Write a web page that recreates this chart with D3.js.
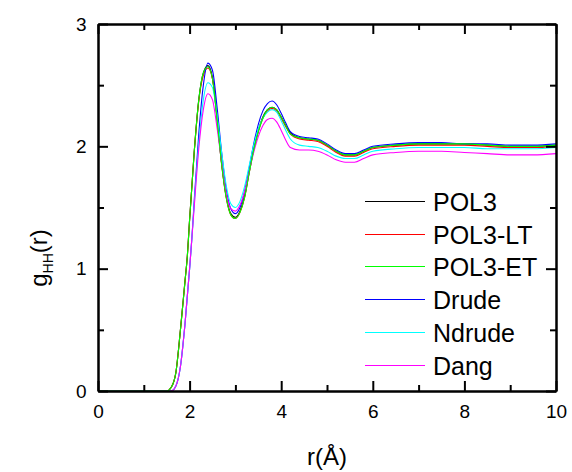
<!DOCTYPE html>
<html>
<head>
<meta charset="utf-8">
<script src="https://cdnjs.cloudflare.com/ajax/libs/d3/7.8.5/d3.min.js"></script>
<style>
  body { margin: 0; background: #fff; }
  text { font-family: 'Liberation Sans', Arial, Helvetica, sans-serif; fill: #000; }
</style>
</head>
<body>
<div id="chart"></div>
<script>
// r grid (Å) shared by all series
const rEarly = [0, 1.4, 1.5, 1.6, 1.7, 1.8, 1.9, 1.95, 2.0, 2.1, 2.2, 2.3, 2.4, 2.5, 2.6, 2.7, 2.8, 2.9, 3.0, 3.1, 3.2, 3.3, 3.4, 3.5, 3.6, 3.7, 3.8, 3.9, 4.0, 4.1, 4.2, 4.4, 4.6, 4.8, 5.0, 5.2, 5.4, 5.6, 5.8, 6.0, 6.5, 7.0, 7.5, 8.0, 8.5, 9.0, 9.5, 10.0];
const rLate = [0, 1.5, 1.6, 1.7, 1.8, 1.9, 2.0, 2.05, 2.1, 2.2, 2.3, 2.4, 2.5, 2.6, 2.7, 2.8, 2.9, 3.0, 3.1, 3.2, 3.3, 3.4, 3.5, 3.6, 3.7, 3.8, 3.9, 4.0, 4.1, 4.2, 4.4, 4.6, 4.8, 5.0, 5.2, 5.4, 5.6, 5.8, 6.0, 6.5, 7.0, 7.5, 8.0, 8.5, 9.0, 9.5, 10.0];

const gPOL3   = [0, 0, 0, 0.03, 0.15, 0.5, 0.9, 1.1, 1.4, 1.95, 2.38, 2.6, 2.66, 2.56, 2.23, 1.86, 1.59, 1.45, 1.42, 1.47, 1.59, 1.79, 1.98, 2.13, 2.24, 2.30, 2.32, 2.30, 2.24, 2.17, 2.11, 2.07, 2.06, 2.05, 2.01, 1.96, 1.93, 1.93, 1.96, 1.99, 2.01, 2.02, 2.02, 2.02, 2.01, 2.0, 2.0, 2.01];
const gPOL3LT = [0, 0, 0, 0.03, 0.15, 0.5, 0.9, 1.1, 1.4, 1.95, 2.37, 2.58, 2.64, 2.55, 2.22, 1.85, 1.58, 1.44, 1.41, 1.46, 1.58, 1.78, 1.97, 2.12, 2.23, 2.29, 2.31, 2.29, 2.23, 2.16, 2.10, 2.06, 2.05, 2.04, 2.0, 1.95, 1.92, 1.92, 1.95, 1.98, 2.0, 2.01, 2.01, 2.01, 2.0, 1.99, 1.99, 2.0];
const gPOL3ET = [0, 0, 0, 0.03, 0.15, 0.5, 0.9, 1.1, 1.4, 1.95, 2.38, 2.6, 2.65, 2.55, 2.22, 1.85, 1.58, 1.44, 1.41, 1.46, 1.58, 1.78, 1.97, 2.12, 2.23, 2.30, 2.32, 2.30, 2.24, 2.17, 2.10, 2.07, 2.06, 2.05, 2.01, 1.96, 1.93, 1.93, 1.96, 1.99, 2.01, 2.02, 2.02, 2.02, 2.01, 2.0, 2.0, 2.01];
const gDrude  = [0, 0, 0, 0.04, 0.2, 0.55, 1.0, 1.25, 1.55, 2.1, 2.5, 2.68, 2.62, 2.32, 1.95, 1.65, 1.49, 1.45, 1.50, 1.63, 1.82, 2.02, 2.18, 2.29, 2.35, 2.37, 2.34, 2.27, 2.19, 2.12, 2.08, 2.07, 2.06, 2.02, 1.97, 1.94, 1.94, 1.97, 2.0, 2.02, 2.03, 2.03, 2.02, 2.02, 2.01, 2.01, 2.02];
const gNdrude = [0, 0, 0, 0.04, 0.2, 0.55, 1.0, 1.25, 1.52, 2.02, 2.38, 2.52, 2.48, 2.25, 1.95, 1.68, 1.53, 1.50, 1.55, 1.67, 1.84, 2.01, 2.14, 2.23, 2.28, 2.30, 2.28, 2.21, 2.13, 2.06, 2.01, 2.00, 1.99, 1.96, 1.92, 1.90, 1.90, 1.93, 1.96, 1.98, 1.99, 1.99, 1.99, 1.98, 1.98, 1.98, 1.99];
const gDang   = [0, 0, 0, 0.04, 0.2, 0.55, 1.0, 1.25, 1.5, 1.98, 2.3, 2.43, 2.38, 2.15, 1.87, 1.62, 1.49, 1.47, 1.52, 1.63, 1.79, 1.95, 2.08, 2.17, 2.22, 2.23, 2.20, 2.13, 2.05, 1.99, 1.97, 1.97, 1.96, 1.93, 1.89, 1.87, 1.87, 1.90, 1.93, 1.95, 1.96, 1.96, 1.95, 1.94, 1.93, 1.93, 1.94];

const seriesNames  = ['POL3', 'POL3-LT', 'POL3-ET', 'Drude', 'Ndrude', 'Dang'];
const seriesColors = ['#000000', '#ff0000', '#00ff00', '#0000ff', '#00ffff', '#ff00ff'];
const seriesR      = [rEarly, rEarly, rEarly, rLate, rLate, rLate];
const seriesG      = [gPOL3, gPOL3LT, gPOL3ET, gDrude, gNdrude, gDang];

const xMajor = [0, 2, 4, 6, 8, 10];
const xMinor = [1, 3, 5, 7, 9];
const yMajor = [0, 1, 2, 3];
const yMinor = [0.5, 1.5, 2.5];

const W = 572, H = 472;
const margin = { top: 24, right: 16, bottom: 81, left: 98 };
const iw = W - margin.left - margin.right;
const ih = H - margin.top - margin.bottom;

const svg = d3.select('#chart').append('svg').attr('width', W).attr('height', H);
const g = svg.append('g').attr('transform', `translate(${margin.left},${margin.top})`);

const x = d3.scaleLinear().domain([0, 10]).range([0, iw]);
const y = d3.scaleLinear().domain([0, 3]).range([ih, 0]);

// curves — green drawn last so it sits on top of black/red
const order = [0, 1, 3, 4, 5, 2];
const line = d3.line().curve(d3.curveMonotoneX);
order.forEach(i => {
    const pts = seriesR[i].map((r, k) => [x(r), y(seriesG[i][k])]);
    g.append('path')
        .attr('d', line(pts))
        .attr('fill', 'none')
        .attr('stroke', seriesColors[i])
        .attr('stroke-width', 1.1);
});

// frame + inward ticks on all four sides
const major = 10, minor = 6;
const axisB = d3.axisBottom(x).tickValues(xMajor).tickSizeInner(-major).tickSizeOuter(0).tickFormat(d3.format('d'));
const axisT = d3.axisTop(x).tickValues(xMajor).tickSizeInner(-major).tickSizeOuter(0).tickFormat('');
const axisL = d3.axisLeft(y).tickValues(yMajor).tickSizeInner(-major).tickSizeOuter(0).tickFormat(d3.format('d'));
const axisR = d3.axisRight(y).tickValues(yMajor).tickSizeInner(-major).tickSizeOuter(0).tickFormat('');
const minB = d3.axisBottom(x).tickValues(xMinor).tickSizeInner(-minor).tickSizeOuter(0).tickFormat('');
const minT = d3.axisTop(x).tickValues(xMinor).tickSizeInner(-minor).tickSizeOuter(0).tickFormat('');
const minL = d3.axisLeft(y).tickValues(yMinor).tickSizeInner(-minor).tickSizeOuter(0).tickFormat('');
const minR = d3.axisRight(y).tickValues(yMinor).tickSizeInner(-minor).tickSizeOuter(0).tickFormat('');

function styleAxis(sel) {
    sel.selectAll('path').attr('stroke', '#000').attr('stroke-width', 2);
    sel.selectAll('line').attr('stroke', '#000').attr('stroke-width', 2);
    sel.selectAll('text').attr('font-size', 19).attr('font-family', "'Liberation Sans', Arial, sans-serif").attr('fill', '#000');
}

g.append('g').attr('transform', `translate(0,${ih})`).call(axisB).call(styleAxis)
    .selectAll('text').attr('dy', '1.25em');
g.append('g').call(axisT).call(styleAxis);
g.append('g').call(axisL).call(styleAxis)
    .selectAll('text').attr('dx', '-0.45em');
g.append('g').attr('transform', `translate(${iw},0)`).call(axisR).call(styleAxis);
g.append('g').attr('transform', `translate(0,${ih})`).call(minB).call(styleAxis);
g.append('g').call(minT).call(styleAxis);
g.append('g').call(minL).call(styleAxis);
g.append('g').attr('transform', `translate(${iw},0)`).call(minR).call(styleAxis);

// axis titles
svg.append('text')
    .attr('x', margin.left + iw / 2).attr('y', 465)
    .attr('text-anchor', 'middle').attr('font-size', 24)
    .text('r(Å)');

const yt = svg.append('text')
    .attr('transform', 'translate(47,258) rotate(-90)')
    .attr('text-anchor', 'middle').attr('font-size', 24);
yt.append('tspan').text('g');
yt.append('tspan').attr('font-size', 14).attr('dy', 6).text('HH');
yt.append('tspan').attr('dy', -6).text('(r)');

// legend
const legY0 = 200.7, legStep = 32.8;
seriesNames.forEach((name, i) => {
    const ly = Math.round(legY0 + i * legStep) + 0.5;
    g.append('line')
        .attr('x1', 365 - margin.left).attr('x2', 425 - margin.left)
        .attr('y1', ly - margin.top).attr('y2', ly - margin.top)
        .attr('stroke', seriesColors[i]).attr('stroke-width', 1.2);
    g.append('text')
        .attr('x', 433 - margin.left).attr('y', ly - margin.top)
        .attr('dy', '0.36em').attr('font-size', 25)
        .text(name);
});
</script>
</body>
</html>
